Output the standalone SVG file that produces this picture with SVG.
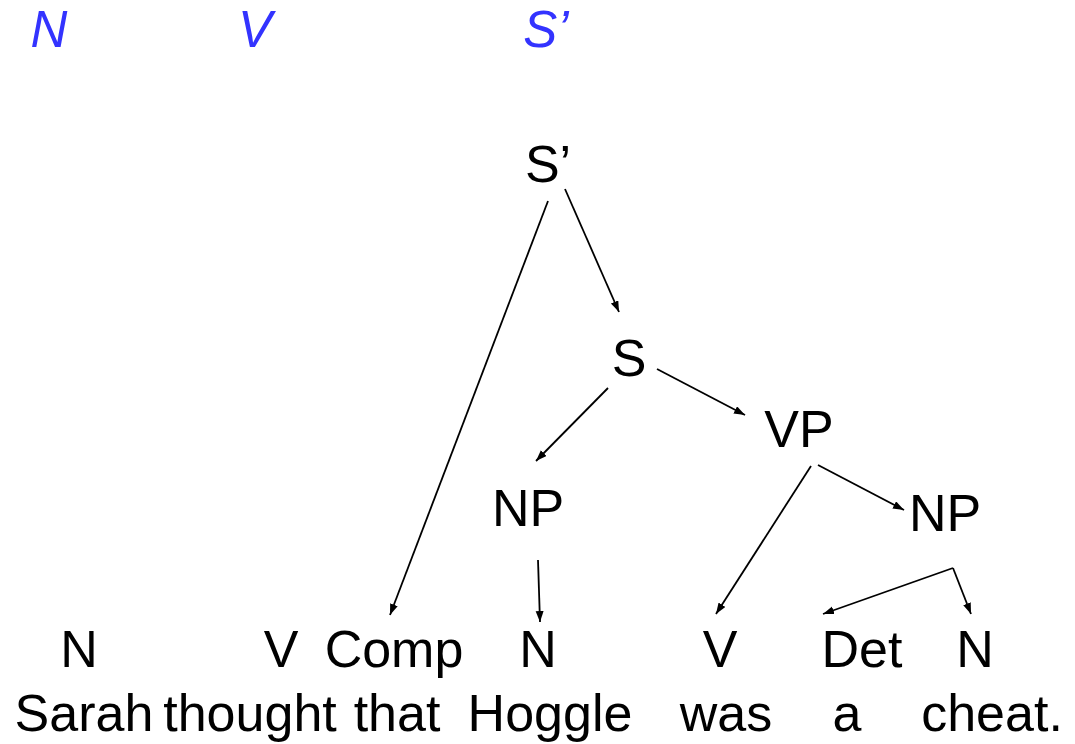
<svg xmlns="http://www.w3.org/2000/svg" width="1075" height="744" viewBox="0 0 1075 744">
<style>
text{font-family:"Liberation Sans",Arial,sans-serif;font-size:52px;fill:#000;text-anchor:middle}
.top{fill:#3333FF;font-style:italic;font-size:51px}
.c{stroke:#000;stroke-width:1.8;fill:none;marker-end:url(#ah)}
</style>
<defs>
<marker id="ah" markerUnits="userSpaceOnUse" markerWidth="12" markerHeight="9" refX="11" refY="4" orient="auto">
<path d="M0,0 L11,4 L0,8 z" fill="#000"/>
</marker>
</defs>
<rect width="1075" height="744" fill="#fff"/>
<g id="toplabels">
<text class="top" x="49" y="47">N</text>
<text class="top" x="255" y="47">V</text>
<text class="top" x="546" y="47">S’</text>
</g>
<g id="node-Sbar"><text x="548" y="182">S’</text></g>
<g id="node-S"><text x="629" y="376">S</text></g>
<g id="node-VP"><text x="799" y="447">VP</text></g>
<g id="node-NP1"><text x="528" y="526">NP</text></g>
<g id="node-NP2"><text x="945" y="531">NP</text></g>
<g id="node-N1"><text x="79" y="667">N</text></g>
<g id="node-V1"><text x="281" y="667">V</text></g>
<g id="node-Comp"><text x="394" y="667">Comp</text></g>
<g id="node-N2"><text x="538" y="667">N</text></g>
<g id="node-V2"><text x="720" y="667">V</text></g>
<g id="node-Det"><text x="862" y="667">Det</text></g>
<g id="node-N3"><text x="975" y="667">N</text></g>
<g id="words">
<text x="84" y="731">Sarah</text>
<text x="250" y="731">thought</text>
<text x="397" y="731">that</text>
<text x="550" y="731">Hoggle</text>
<text x="726" y="731">was</text>
<text x="847" y="731">a</text>
<text x="992" y="731">cheat.</text>
</g>
<g id="connectors">
<line class="c" x1="548" y1="201" x2="390" y2="615"/>
<line class="c" x1="565" y1="189" x2="619" y2="312"/>
<line class="c" x1="608" y1="388" x2="536" y2="461"/>
<line class="c" x1="657" y1="369" x2="745" y2="415"/>
<line class="c" x1="811" y1="466" x2="716" y2="614"/>
<line class="c" x1="818" y1="465" x2="904" y2="510"/>
<line class="c" x1="538" y1="560" x2="540" y2="622"/>
<line class="c" x1="953" y1="568" x2="823" y2="614"/>
<line class="c" x1="953" y1="568" x2="971" y2="614"/>
</g>
</svg>
